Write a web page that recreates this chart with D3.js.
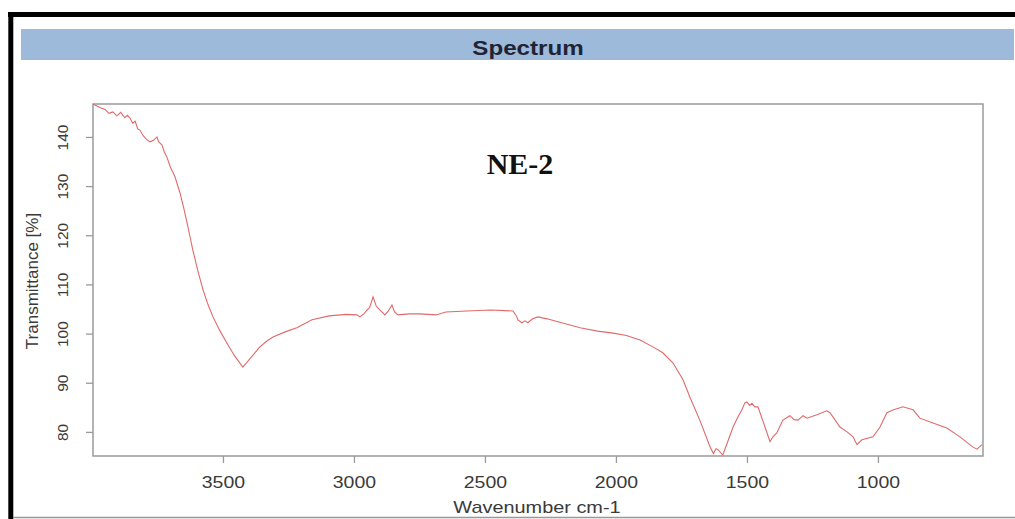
<!DOCTYPE html>
<html><head><meta charset="utf-8">
<script src="https://cdn.jsdelivr.net/npm/d3@7"></script>
<style>body{margin:0;background:#fff;overflow:hidden}svg{display:block}</style>
</head><body>
<svg id="chart" width="1015" height="519"></svg>
<script>
const wavenumbers = [3996,3970,3950,3935,3920,3905,3890,3875,3865,3855,3845,3835,3825,3817,3805,3792,3779,3765,3752,3745,3733,3724,3714,3700,3683,3664,3650,3637,3626,3615,3596,3576,3557,3538,3512,3485,3455,3424,3395,3359,3330,3309,3260,3218,3160,3095,3030,2989,2977,2962,2950,2940,2927,2915,2901,2882,2870,2855,2845,2832,2790,2748,2687,2649,2569,2480,2393,2380,2374,2359,2347,2336,2318,2298,2263,2200,2137,2070,2011,1960,1908,1859,1821,1782,1744,1718,1680,1641,1628,1618,1611,1592,1570,1553,1534,1520,1508,1500,1490,1481,1470,1458,1431,1412,1401,1386,1363,1336,1320,1305,1286,1271,1233,1195,1183,1145,1118,1095,1080,1061,1019,992,966,940,916,905,866,840,790,737,687,637,622,603];
const transmittance = [146.7,146.0,145.6,144.8,145.1,144.3,145.0,143.9,144.4,143.9,142.8,143.2,141.6,141.4,140.3,139.5,139.0,139.3,140.0,139.0,138.4,137.0,135.9,133.8,131.9,128.6,125.6,122.5,119.8,117.0,112.8,108.9,105.9,103.4,100.6,98.1,95.4,93.2,95.0,97.3,98.6,99.3,100.4,101.2,102.8,103.6,103.9,103.8,103.4,104.0,104.8,105.3,107.5,105.6,104.8,103.8,104.5,105.8,104.4,103.8,104.0,104.0,103.8,104.4,104.6,104.8,104.6,103.6,102.8,102.2,102.6,102.2,103.0,103.4,103.0,102.1,101.2,100.5,100.1,99.6,98.7,97.3,96.1,94.0,90.6,87.1,82.4,77.0,75.6,76.6,76.4,75.3,78.5,81.0,83.1,84.4,85.9,86.1,85.4,85.8,85.1,85.1,81.0,78.0,79.0,79.8,82.4,83.3,82.5,82.4,83.3,82.8,83.5,84.3,83.9,81.0,80.0,79.0,77.4,78.4,79.0,81.0,83.9,84.5,84.9,85.1,84.5,82.8,81.8,80.8,79.0,76.9,76.5,77.4];
const xTicks = [3500,3000,2500,2000,1500,1000];
const yTicks = [80,90,100,110,120,130,140];
const chartTitle = "Spectrum";
const sampleLabel = "NE-2";
const xTitle = "Wavenumber cm-1";
const yTitle = "Transmittance [%]";

const svg = d3.select("#chart");
const font = "'Liberation Sans', Arial, sans-serif";

// outer frame
svg.append("line").attr("x1",8).attr("x2",1015).attr("y1",14.5).attr("y2",14.5).attr("stroke","#000").attr("stroke-width",5);
svg.append("line").attr("x1",10.8).attr("x2",10.8).attr("y1",12).attr("y2",519).attr("stroke","#000").attr("stroke-width",5);
svg.append("line").attr("x1",13).attr("x2",1015).attr("y1",517.5).attr("y2",517.5).attr("stroke","#999").attr("stroke-width",1.5);

// title bar
svg.append("rect").attr("x",21).attr("y",29).attr("width",993).attr("height",31).attr("fill","#9dbadb");
svg.append("g").attr("transform","translate(528,55) scale(1.15,1)")
  .append("text").attr("text-anchor","middle")
  .attr("font-family",font).attr("font-weight","bold").attr("font-size",21).attr("fill","#1e2433").text(chartTitle);

const L=93, R=983, T=104, B=456;
const x = d3.scaleLinear().domain([3996,599]).range([L,R]);
const y = d3.scaleLinear().domain([75.1,146.7]).range([B,T]);

const axisColor = "#9a9a9a";
const xAxis = svg.append("g").attr("transform",`translate(0,${B})`)
  .call(d3.axisBottom(x).tickValues(xTicks).tickSize(7).tickPadding(13).tickFormat(d3.format("d")));
const yAxis = svg.append("g").attr("transform",`translate(${L},0)`)
  .call(d3.axisLeft(y).tickValues(yTicks).tickSize(7).tickPadding(10).tickFormat(d3.format("d")));
[xAxis,yAxis].forEach(g=>{
  g.select(".domain").remove();
  g.selectAll(".tick line").attr("stroke",axisColor).attr("stroke-width",1.3);
  g.selectAll("text").attr("font-family",font).attr("fill","#3a3a3a");
});
xAxis.selectAll(".tick text").attr("font-size",16.5).attr("transform","scale(1.18,1)");
yAxis.selectAll(".tick text").attr("font-size",15.5).attr("text-anchor","middle").attr("dy",0)
  .attr("transform","translate(-31,0) rotate(-90)").attr("x",0).attr("y",0)
  .attr("dominant-baseline","central");

// plot box
svg.append("rect").attr("x",L).attr("y",T).attr("width",R-L).attr("height",B-T)
  .attr("fill","none").attr("stroke",axisColor).attr("stroke-width",1.5);

// curve
const pts = wavenumbers.map((w,i)=>[w,transmittance[i]]);
svg.append("path").datum(pts)
  .attr("d",d3.line().x(d=>x(d[0])).y(d=>y(d[1])))
  .attr("fill","none").attr("stroke","#e06a6a").attr("stroke-width",1.1);

// labels
svg.append("text").attr("x",520).attr("y",174).attr("text-anchor","middle")
  .attr("font-family","'Liberation Serif','Times New Roman',serif").attr("font-weight","bold").attr("font-size",30).attr("fill","#111").text(sampleLabel);
svg.append("g").attr("transform","translate(537,513) scale(1.17,1)")
  .append("text").attr("text-anchor","middle")
  .attr("font-family",font).attr("font-size",17).attr("fill","#3a3a3a").text(xTitle);
svg.append("text").attr("transform","translate(38,281) rotate(-90)").attr("text-anchor","middle")
  .attr("font-family",font).attr("font-size",17).attr("fill","#3a3a3a").text(yTitle);
</script>
</body></html>
